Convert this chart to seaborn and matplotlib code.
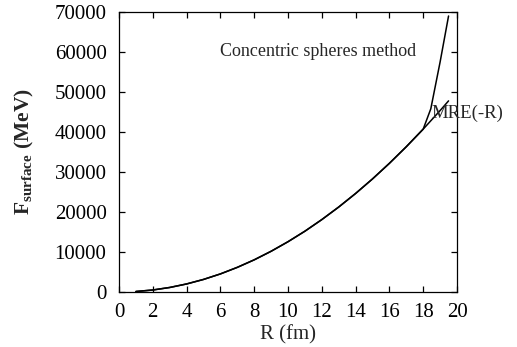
import matplotlib
matplotlib.use("Agg")
import matplotlib.pyplot as plt
import seaborn as sns
import pandas as pd

# Surface free energy vs. radius for the two methods
r_mre = [1, 2, 3, 4, 5, 6, 7, 8, 9, 10, 11, 12, 13, 14, 15, 16, 17, 18, 19, 19.5]
f_mre = [126, 500, 1130, 2010, 3140, 4520, 6160, 8040, 10180, 12570, 15200,
         18100, 21240, 24630, 28270, 32170, 36320, 40720, 45360, 47780]

r_cs = [1, 2, 3, 4, 5, 6, 7, 8, 9, 10, 11, 12, 13, 14, 15, 16, 17, 18, 18.45, 19.0, 19.5]
f_cs = [126, 500, 1130, 2010, 3140, 4520, 6160, 8040, 10180, 12570, 15200,
        18100, 21240, 24630, 28270, 32170, 36320, 40720, 45800, 57500, 69000]

x_ticks = [0, 2, 4, 6, 8, 10, 12, 14, 16, 18, 20]
y_ticks = [0, 10000, 20000, 30000, 40000, 50000, 60000, 70000]

sns.set_style("ticks")
plt.rcParams["font.family"] = ["Liberation Serif", "DejaVu Serif"]
plt.rcParams["mathtext.fontset"] = "custom"
plt.rcParams["mathtext.rm"] = "Liberation Serif"
plt.rcParams["mathtext.bf"] = "Liberation Serif:bold"

fig = plt.figure(figsize=(5.17, 3.47), dpi=100)
ax = fig.add_axes([119 / 517, 55 / 347, 338 / 517, 280 / 347])

df_mre = pd.DataFrame({"R": r_mre, "F": f_mre})
df_cs = pd.DataFrame({"R": r_cs, "F": f_cs})
sns.lineplot(data=df_mre, x="R", y="F", ax=ax, color="black", linewidth=1.1)
sns.lineplot(data=df_cs, x="R", y="F", ax=ax, color="black", linewidth=1.1)

ax.set_xlim(0, 20)
ax.set_ylim(0, 70000)
ax.set_xticks(x_ticks)
ax.set_yticks(y_ticks)
ax.set_xticklabels([str(v) for v in x_ticks])
ax.set_yticklabels([str(v) for v in y_ticks])
ax.tick_params(direction="in", length=4, width=0.9, top=True, right=True,
               labelsize=15, colors="black")
ax.tick_params(axis="y", pad=9)
ax.tick_params(axis="x", pad=8)
for s in ax.spines.values():
    s.set_linewidth(0.9)
    s.set_color("black")

ax.set_xlabel("R (fm)", fontsize=15, labelpad=2)
ax.set_ylabel(r"$\mathbf{F}_{\mathbf{surface}}$ (MeV)", fontsize=15.5, fontweight="bold", labelpad=13)

ax.text(6.0, 60000, "Concentric spheres method", fontsize=13, ha="left", va="center")
ax.text(18.5, 44700, "MRE(-R)", fontsize=13.5, ha="left", va="center")

fig.savefig("out.png", dpi=100)
